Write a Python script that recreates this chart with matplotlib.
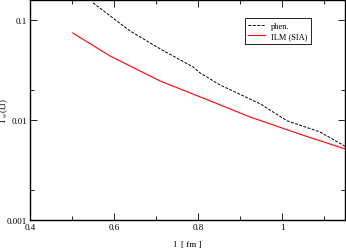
import numpy as np
import matplotlib
matplotlib.use('Agg')
import matplotlib.pyplot as plt
from matplotlib.ticker import FixedLocator, NullFormatter

plt.rcParams['font.family'] = ['Liberation Serif', 'DejaVu Serif']
plt.rcParams['mathtext.fontset'] = 'stix'

# data
l_phen = [0.55, 0.638, 0.71, 0.788, 0.805, 0.852, 0.948, 1.012, 1.09, 1.152]
g_phen = [0.148, 0.0776, 0.0513, 0.0339, 0.0295, 0.0224, 0.0145, 0.0098, 0.0076, 0.0054]

l_ilm = [0.502, 0.59, 0.71, 0.829, 0.924, 1.043, 1.152]
g_ilm = [0.074, 0.0437, 0.0245, 0.0155, 0.0107, 0.0072, 0.0051]

xticks = [0.4, 0.6, 0.8, 1.0]
xtick_labels = ['0.4', '0.6', '0.8', '1']
yticks = [0.001, 0.01, 0.1]
ytick_labels = ['0.001', '0.01', '0.1']

fig = plt.figure(figsize=(3.46, 2.51), dpi=100)
ax = fig.add_axes([30 / 346, 1 - 221 / 251, 315 / 346, 220 / 251])

ax.plot(l_phen, g_phen, color='black', ls=(0, (3, 1.5)), lw=0.7, label='phen.')
ax.plot(l_ilm, g_ilm, color='red', lw=0.8, label='ILM (SIA)')

ax.set_yscale('log')
ax.set_xlim(0.4, 1.15)
ax.set_ylim(0.001, 0.158)

ax.xaxis.set_major_locator(FixedLocator(xticks))
ax.set_xticklabels(xtick_labels)
ax.xaxis.set_minor_locator(FixedLocator([0.5, 0.7, 0.9, 1.1]))
ax.yaxis.set_major_locator(FixedLocator(yticks))
ax.set_yticklabels(ytick_labels)
ax.yaxis.set_minor_locator(FixedLocator([0.002, 0.02]))
ax.yaxis.set_minor_formatter(NullFormatter())

ax.tick_params(which='both', direction='in', top=True, right=True, labelsize=6.5, pad=2)
ax.tick_params(which='major', length=5, width=0.6)
ax.tick_params(which='minor', length=3, width=0.6)
for s in ax.spines.values():
    s.set_linewidth(1.0)

ax.set_xlabel('l  [ fm ]', fontsize=6.5)
ax.xaxis.set_label_coords(0.5, -0.092)
ax.set_ylabel(r'$\Gamma_{w}$(l,l)', fontsize=6.5)
ax.yaxis.set_label_coords(-0.062, 0.5)

leg = ax.legend(loc='upper right', bbox_to_anchor=(0.905, 0.935), fontsize=6,
                frameon=True, fancybox=False, edgecolor='black', framealpha=1,
                handlelength=2.0, borderpad=0.4, labelspacing=0.3)
leg.get_frame().set_linewidth(0.6)

fig.savefig('out.png', dpi=100)
